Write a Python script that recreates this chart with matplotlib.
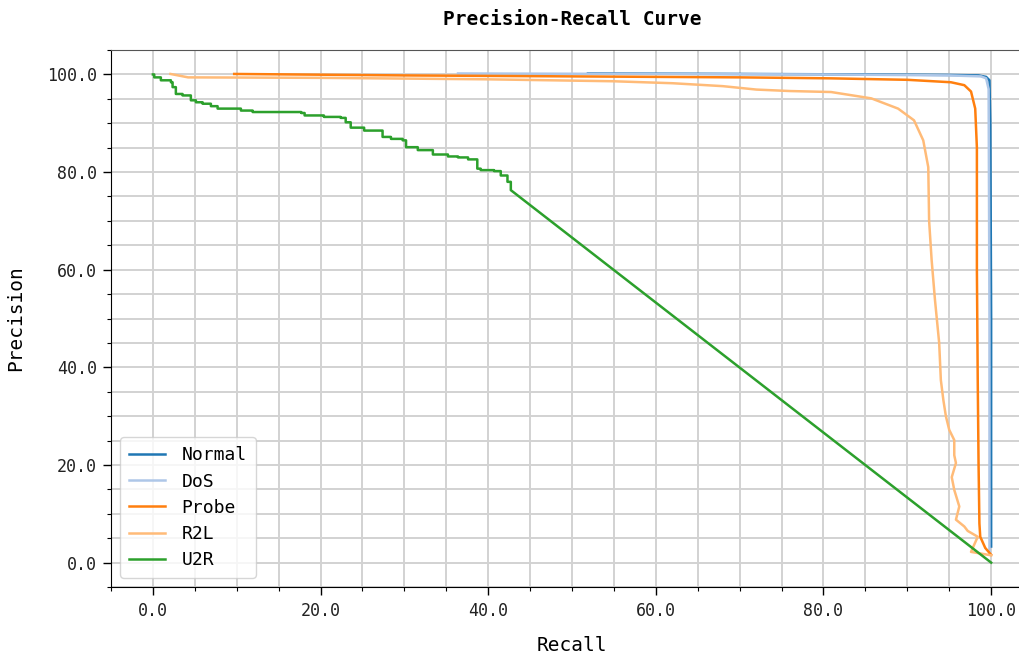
import numpy as np
import matplotlib
matplotlib.use("Agg")
import matplotlib.pyplot as plt
from matplotlib.ticker import MultipleLocator, FormatStrFormatter

plt.rcParams['font.family'] = ['DejaVu Sans Mono']

# recall / precision points (percent)
normal_recall = [51.9, 70.0, 85.0, 95.0, 98.5, 99.4, 99.8, 99.9, 100.0, 100.0]
normal_prec = [100.2, 100.1, 100.0, 99.9, 99.8, 99.5, 98.8, 90.0, 50.0, 3.3]

dos_recall = [36.4, 60.0, 80.0, 95.0, 98.8, 99.4, 99.7, 99.8, 99.8]
dos_prec = [100.2, 100.1, 100.0, 99.8, 99.6, 99.2, 97.0, 50.0, 2.0]

probe_recall = [9.7, 30.0, 50.0, 70.0, 80.9, 90.0, 95.2, 96.8, 97.6, 98.1,
                98.3, 98.3, 98.4, 98.5, 98.6, 98.7, 99.3, 100.0]
probe_prec = [100.1, 99.8, 99.6, 99.4, 99.2, 98.9, 98.4, 97.8, 96.5, 93.0,
              85.0, 60.0, 37.4, 20.0, 8.0, 5.3, 3.0, 1.6]

r2l_recall = [2.1, 4.2, 20.0, 40.0, 55.0, 62.0, 68.0, 72.0, 76.0, 80.9,
              85.7, 88.9, 90.8, 91.9, 92.5, 92.6, 92.9, 93.3, 93.8, 94.0,
              94.3, 94.6, 95.0, 95.6, 95.6, 95.8, 95.3, 95.6, 96.2, 95.8,
              96.8, 97.2, 98.4, 97.6, 100.0]
r2l_prec = [100.1, 99.4, 99.3, 99.0, 98.6, 98.2, 97.6, 96.9, 96.6, 96.4,
            95.1, 93.0, 90.6, 86.5, 81.0, 70.0, 62.0, 53.8, 45.0, 37.4,
            33.3, 30.0, 27.2, 25.1, 22.0, 20.4, 17.5, 14.9, 11.5, 8.8,
            7.4, 6.5, 5.3, 2.2, 1.5]

u2r_recall = [0.0, 0.16, 0.95, 2.15, 2.35, 2.74, 3.54, 4.53, 5.13, 5.93,
              6.92, 7.72, 10.5, 11.9, 17.7, 18.1, 20.4, 22.4, 23.0, 23.6,
              25.2, 27.2, 27.4, 28.4, 29.8, 30.2, 31.6, 33.4, 35.2, 36.4,
              37.6, 38.7, 39.1, 40.7, 41.5, 42.3, 42.7, 100.0]
u2r_prec = [100.0, 99.4, 98.8, 98.4, 97.4, 96.0, 95.7, 94.7, 94.3, 94.0,
            93.5, 93.0, 92.6, 92.3, 92.1, 91.6, 91.3, 91.1, 90.2, 89.1,
            88.5, 88.5, 87.2, 86.8, 86.5, 85.1, 84.5, 83.6, 83.2, 83.0,
            82.6, 80.7, 80.4, 80.2, 79.3, 78.0, 76.3, 0.0]

# staircase for U2R up to the last threshold, then the straight tail
ux = np.array(u2r_recall)
uy = np.array(u2r_prec)
step_x = [ux[0]]
step_y = [uy[0]]
for i in range(1, len(ux) - 1):
    step_x += [ux[i], ux[i]]
    step_y += [uy[i - 1], uy[i]]
step_x.append(ux[-1])
step_y.append(uy[-1])

fig = plt.figure(figsize=(10.2, 6.54), dpi=100)
ax = fig.add_axes([0.1088, 0.1024, 0.904, 0.8211])

ax.plot(normal_recall, normal_prec, color='#1f77b4', lw=1.8, label='Normal')
ax.plot(dos_recall, dos_prec, color='#aec7e8', lw=1.8, label='DoS')
ax.plot(probe_recall, probe_prec, color='#ff7f0e', lw=1.8, label='Probe')
ax.plot(r2l_recall, r2l_prec, color='#ffbb78', lw=1.8, label='R2L')
ax.plot(step_x, step_y, color='#2ca02c', lw=1.8, label='U2R')

ax.set_xlim(-5, 105)
ax.set_ylim(-5, 105)
ax.xaxis.set_major_locator(MultipleLocator(20))
ax.xaxis.set_minor_locator(MultipleLocator(5))
ax.yaxis.set_major_locator(MultipleLocator(20))
ax.yaxis.set_minor_locator(MultipleLocator(5))
ax.xaxis.set_major_formatter(FormatStrFormatter('%.1f'))
ax.yaxis.set_major_formatter(FormatStrFormatter('%.1f'))
ax.tick_params(which='major', length=6, width=1, labelsize=12, labelcolor='#222222')
ax.tick_params(axis='x', which='major', pad=5)
ax.tick_params(axis='y', which='major', pad=4)
ax.tick_params(which='minor', length=3, width=0.8)
ax.grid(which='both', color='#d2d2d2', lw=1.4)
ax.set_axisbelow(True)
ax.spines['top'].set_color('#555555')

ax.set_title('Precision-Recall Curve', fontsize=14, fontweight='bold', pad=18)
ax.set_xlabel('Recall', fontsize=14, labelpad=11)
ax.set_ylabel('Precision', fontsize=14, labelpad=16)
ax.legend(loc='lower left', fontsize=13, handlelength=2.0, handletextpad=0.9,
          borderpad=0.5, labelspacing=0.45)

fig.savefig('out.png', dpi=100)
